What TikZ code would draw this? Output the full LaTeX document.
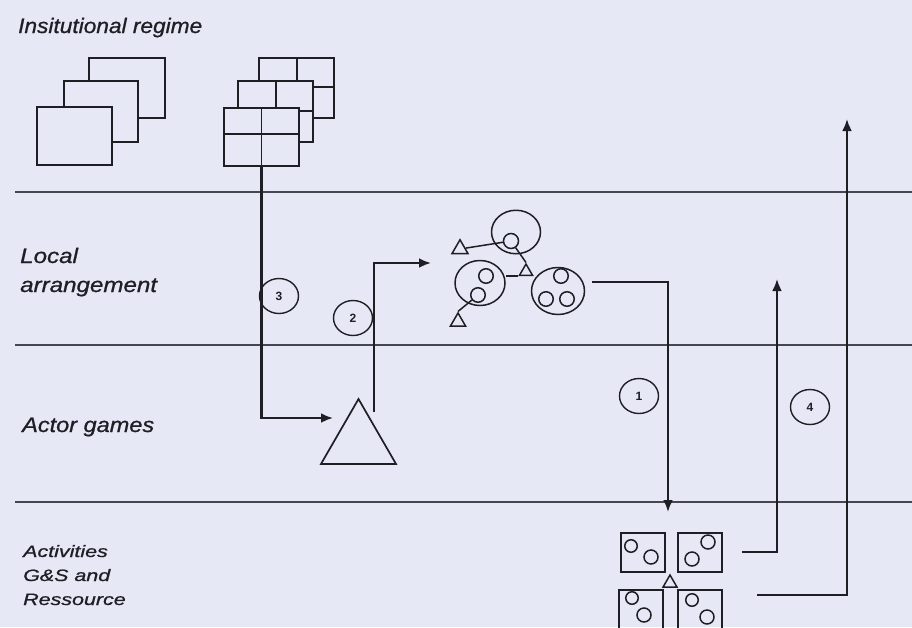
\documentclass[tikz,border=0pt]{standalone}
\usepackage{fontspec}
\setmainfont{Liberation Sans}[ItalicFeatures={FakeBold=0.8}]
\usetikzlibrary{arrows.meta,shapes.geometric}
\definecolor{bg}{RGB}{230,232,245}
\definecolor{ink}{RGB}{30,30,36}
\definecolor{rulec}{RGB}{70,70,80}
\begin{document}
\begin{tikzpicture}[x=1pt,y=-1pt,
  lbl/.style={anchor=base west,inner sep=0pt,text=ink,font=\fontsize{21}{25}\selectfont\itshape},
  slbl/.style={anchor=base west,inner sep=0pt,text=ink,font=\fontsize{16.5}{20}\selectfont\itshape},
  num/.style={ellipse,draw=ink,line width=1.4pt,minimum width=39pt,minimum height=35pt,inner sep=0pt,text=ink,font=\fontsize{12}{13}\selectfont\bfseries},
  band/.style={draw=rulec,line width=1.6pt},
  shp/.style={draw=ink,line width=1.9pt},
  thinshp/.style={draw=ink,line width=1.5pt},
  conn/.style={draw=ink,line width=2.4pt},
  arr/.style={conn,-{Latex[length=12pt,width=10pt]}},
  bigc/.style={ellipse,thinshp,inner sep=0pt},
  smallc/.style={circle,thinshp,inner sep=0pt,minimum size=14.5pt},
  tri/.style={regular polygon,regular polygon sides=3,thinshp,inner sep=0pt},
  dice/.style={rectangle,shp,inner sep=0pt,minimum width=44pt,minimum height=39pt,anchor=north west},
  dot/.style={circle,thinshp,inner sep=0pt,minimum size=12.5pt}]
\fill[bg] (0,0) rectangle (912,627);
\useasboundingbox (0,0) rectangle (912,627);
\clip (0,0) rectangle (912,627);

% band lines
\coordinate (b1l) at (15,192); \coordinate (b1r) at (912,192);
\coordinate (b2l) at (15,345); \coordinate (b2r) at (912,345);
\coordinate (b3l) at (15,502); \coordinate (b3r) at (912,502);
\draw[band] (b1l) -- (b1r);
\draw[band] (b2l) -- (b2r);
\draw[band] (b3l) -- (b3r);

% labels
\node[lbl] (t1) at (18,33) {\scalebox{1.08}[1]{Insitutional regime}};
\node[lbl] (t2a) at (20,263) {\scalebox{1.15}[1]{Local}};
\node[lbl] (t2b) at (20,292) {\scalebox{1.15}[1]{arrangement}};
\node[lbl] (t3) at (22,432) {\scalebox{1.12}[1]{Actor games}};
\node[slbl] (t4a) at (23,557) {\scalebox{1.3}[1]{Activities}};
\node[slbl] (t4b) at (23,581) {\scalebox{1.3}[1]{G\&S and}};
\node[slbl] (t4c) at (23,605) {\scalebox{1.3}[1]{Ressource}};

% stacked plain boxes
\draw[shp,fill=bg] (89,58) rectangle (165,118);
\draw[shp,fill=bg] (64,81) rectangle (138,142);
\draw[shp,fill=bg] (37,107) rectangle (112,165);

% stacked grid boxes
\draw[shp,fill=bg] (259,58) rectangle (334,118);
\draw[shp] (297,58) -- (297,118) (259,87) -- (334,87);
\draw[shp,fill=bg] (238,81) rectangle (313,142);
\draw[shp] (276,81) -- (276,142) (238,111) -- (313,111);
\node[shp,fill=bg,minimum width=75pt,minimum height=58pt,inner sep=0pt,anchor=north west] (g1) at (223,107) {};
\draw[shp] (g1.north) -- (g1.south) (223,134) -- (298,134);

% actor triangle
\node[tri,line width=1.7pt,minimum size=86.6pt] (T) at (358.5,442.3) {};

% local arrangement cluster
\node[bigc,minimum width=49pt,minimum height=43.5pt] (cA) at (516,232) {};
\node[smallc,minimum size=15pt] (sa) at (511,241) {};
\node[bigc,minimum width=50pt,minimum height=45pt] (cB) at (480,283) {};
\node[smallc] (sb1) at (486,276) {};
\node[smallc] (sb2) at (478,295) {};
\node[bigc,minimum width=53pt,minimum height=47pt] (cC) at (558,291) {};
\node[smallc] (sc1) at (561,276) {};
\node[smallc] (sc2) at (546,299) {};
\node[smallc] (sc3) at (567,299) {};
\node[tri,minimum size=18.5pt] (ta1) at (460,249) {};
\node[tri,minimum size=15pt] (ta2) at (526,271.5) {};
\node[tri,minimum size=17.5pt] (tb1) at (458,321.7) {};
\draw[thinshp] (ta1) -- (sa);
\draw[thinshp] (sa) -- (ta2.corner 1);
\draw[thinshp] (ta2.corner 2) -- (cB.east |- ta2.corner 2);
\draw[thinshp] (sb2) -- (tb1.corner 1);

% activities dice
\node[dice] (d1) at (620,532) {};
\node[dot] at (631,546) {};
\node[dot,minimum size=14pt] at (651,557) {};
\node[dice] (d2) at (677,532) {};
\node[dot,minimum size=14pt] at (708,542) {};
\node[dot,minimum size=14pt] at (692,559) {};
\node[tri,minimum size=16pt] (ta) at (670,583) {};
\node[dice,minimum height=50pt] (d3) at (618,589) {};
\node[dot] at (632,598) {};
\node[dot,minimum size=14pt] at (644,615) {};
\node[dice,minimum height=50pt] (d4) at (677,589) {};
\node[dot] at (692,600) {};
\node[dot,minimum size=14pt] at (707,617) {};

% connector end points
\coordinate (a3e) at (333,418);
\coordinate (a2s) at (374,412);
\coordinate (a2e) at (431,263);
\coordinate (a1s) at (592,282);
\coordinate (a1e) at (668,512);
\coordinate (a5s) at (742,552);
\coordinate (a5e) at (777,279);
\coordinate (a4s) at (757,595);
\coordinate (a4e) at (847,119);

\draw[arr] (g1.south) |- (a3e);
\draw[arr] (a2s) |- (a2e);
\draw[arr] (a1s) -| (a1e);
\draw[arr] (a5s) -| (a5e);
\draw[arr] (a4s) -| (a4e);

% circled numbers
\node[num] (n1) at (639,396) {1};
\node[num] (n2) at (353,318) {2};
\node[num] (n3) at (279,296) {3};
\node[num] (n4) at (810,407) {4};
\end{tikzpicture}
\end{document}
